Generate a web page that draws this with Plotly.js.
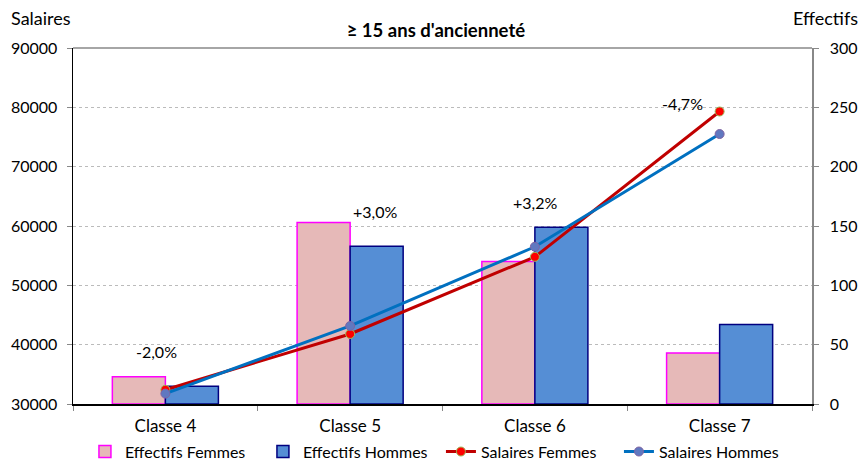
<!DOCTYPE html>
<html><head><meta charset="utf-8">
<script src="https://cdn.plot.ly/plotly-3.0.1.min.js"></script>
<style>body{margin:0;}#c{width:858px;height:461px;}</style>
</head><body><div id="c"></div>
<script>
const categories = ["Classe 4", "Classe 5", "Classe 6", "Classe 7"];
const effectifsFemmes = [23, 153, 120, 43];
const effectifsHommes = [15, 133, 149, 67];
const salairesFemmes = [32400, 41800, 54800, 79300];
const salairesHommes = [31750, 43150, 56500, 75500];
const ecartLabels = ["-2,0%", "+3,0%", "+3,2%", "-4,7%"];
const ecartX = [-0.05, 1.135, 2.0, 2.8];
const ecartY = [38900, 62500, 63900, 80600];

const F = "Lato, 'Open Sans', sans-serif";
const traces = [
  {type:'bar', name:'Effectifs Femmes', x:categories, y:effectifsFemmes, yaxis:'y',
   marker:{color:'#E6B9B8', line:{color:'#FF00FF', width:1.5}}},
  {type:'bar', name:'Effectifs Hommes', x:categories, y:effectifsHommes, yaxis:'y',
   marker:{color:'#558ED5', line:{color:'#000080', width:1.5}}},
  {type:'scatter', mode:'lines+markers', name:'Salaires Femmes', x:categories, y:salairesFemmes, yaxis:'y2',
   line:{color:'#C00000', width:3}, marker:{color:'#FF0000', size:9, line:{color:'#9BBB59', width:1}}},
  {type:'scatter', mode:'lines+markers', name:'Salaires Hommes', x:categories, y:salairesHommes, yaxis:'y2',
   line:{color:'#0070C0', width:3}, marker:{color:'#6078C0', size:9, line:{color:'#8064A2', width:1}}}
];
const annotations = ecartLabels.map((t,i)=>({text:t, x:ecartX[i], y:ecartY[i], xref:'x', yref:'y2',
  showarrow:false, font:{family:F, size:16, color:'#000'}}));
annotations.push({text:'Salaires', xref:'paper', yref:'paper', x:-0.086, y:1.0, yshift:30, xanchor:'left', yanchor:'middle',
  showarrow:false, font:{family:F, size:18, color:'#000'}});
annotations.push({text:'Effectifs', xref:'paper', yref:'paper', x:1.065, y:1.0, yshift:30, xanchor:'right', yanchor:'middle',
  showarrow:false, font:{family:F, size:18, color:'#000'}});
const layout = {
  width:858, height:461,
  margin:{l:73, r:46, t:48, b:57, autoexpand:false},
  paper_bgcolor:'#fff', plot_bgcolor:'#fff',
  title:{text:"<b>≥ 15 ans d'ancienneté</b>", x:0.508, xanchor:'center', y:0.934, yanchor:'middle',
    font:{family:F, size:18.5, color:'#000'}},
  barmode:'group', bargap:0.426, bargroupgap:0,
  showlegend:true,
  legend:{orientation:'h', x:0.099, xanchor:'left', xref:'container', y:-0.086, yref:'paper', yanchor:'top',
    bgcolor:'rgba(0,0,0,0)', font:{family:F, size:16, color:'#000'}, traceorder:'normal', itemwidth:30,
    entrywidth:133, entrywidthmode:'pixels'},
  xaxis:{type:'category', showline:true, linecolor:'#000', linewidth:1.5, ticks:'outside', tickson:'boundaries',
    ticklen:5, tickcolor:'#888', ticklabelstandoff:6, tickfont:{family:F, size:17, color:'#000'}, showgrid:false, zeroline:false},
  yaxis:{side:'right', range:[0,300], dtick:50, showline:true, linecolor:'#888', linewidth:1.5,
    ticks:'outside', ticklen:5, tickcolor:'#888', ticklabelstandoff:8, tickfont:{family:F, size:16, color:'#000'},
    showgrid:false, zeroline:false},
  yaxis2:{side:'left', overlaying:'y', range:[30000,90000], dtick:10000, showline:true, linecolor:'#000', linewidth:1.5,
    ticks:'outside', ticklen:5, tickcolor:'#888', ticklabelstandoff:6, tickfont:{family:F, size:16, color:'#000'},
    showgrid:true, gridcolor:'#BBBBBB', griddash:'dot', gridwidth:1, zeroline:false, tickformat:'d'},
  shapes:[{type:'line', xref:'paper', yref:'paper', x0:0, x1:1, y0:1, y1:1, line:{color:'#888', width:1.5}}],
  annotations:annotations
};
Plotly.newPlot('c', traces, layout, {displayModeBar:false, staticPlot:true});
</script></body></html>
